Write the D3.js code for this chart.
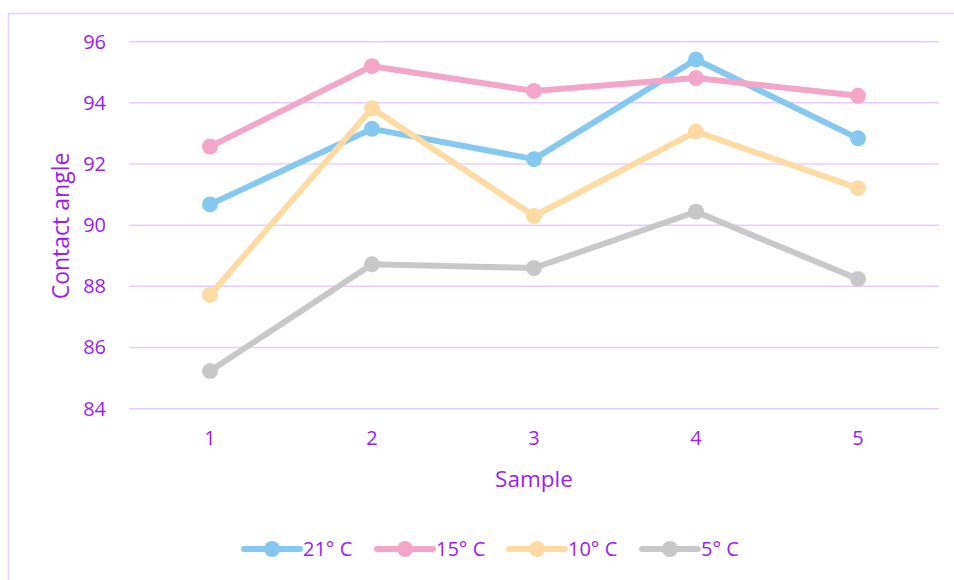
<!DOCTYPE html>
<html>
<head>
<meta charset="utf-8">
<script src="https://cdn.jsdelivr.net/npm/d3@7"></script>
<style>
  html, body { margin: 0; padding: 0; background: #fff; }
  svg { display: block; }
  text { font-family: "Open Sans", "Noto Sans", sans-serif; fill: #9B1BFA; }
</style>
</head>
<body>
<svg id="chart" width="954" height="580"></svg>
<script>
// Contact angle per sample at four temperatures
const samples = ["1", "2", "3", "4", "5"];
const seriesNames = ["21° C", "15° C", "10° C", "5° C"];
const seriesColors = ["#85C8F0", "#F4A6C8", "#FFDBA4", "#C8C8C8"];
const values21 = [90.68, 93.15, 92.16, 95.42, 92.84];
const values15 = [92.57, 95.20, 94.39, 94.81, 94.23];
const values10 = [87.72, 93.82, 90.30, 93.06, 91.21];
const values5  = [85.23, 88.72, 88.60, 90.44, 88.24];
const yTicks = [84, 86, 88, 90, 92, 94, 96];

const series = [values21, values15, values10, values5].map((v, i) => ({
  name: seriesNames[i], color: seriesColors[i], values: v
}));

const svg = d3.select("#chart");
const gridColor = "#E8CCFF";

// outer frame
svg.append("rect")
  .attr("x", 8.5).attr("y", 13.5)
  .attr("width", 960).attr("height", 600)
  .attr("fill", "none").attr("stroke", gridColor).attr("stroke-width", 1.5);

const plot = { left: 129, right: 939, top: 41.7, bottom: 408.7 };

const x = d3.scaleBand().domain(samples).range([plot.left, plot.right]);
const y = d3.scaleLinear().domain([84, 96]).range([plot.bottom, plot.top]);

// horizontal gridlines
svg.append("g")
  .selectAll("line").data(yTicks).join("line")
  .attr("x1", plot.left).attr("x2", plot.right)
  .attr("y1", d => y(d)).attr("y2", d => y(d))
  .attr("stroke", gridColor).attr("stroke-width", 1.5);

// y axis labels
const yAxis = svg.append("g")
  .attr("transform", `translate(${plot.left - 23},0)`)
  .call(d3.axisLeft(y).tickValues(yTicks).tickSize(0).tickPadding(0));
yAxis.select(".domain").remove();
yAxis.selectAll("text")
  .style("font-size", "20px").attr("fill", null)
  .style("fill", "#9B1BFA").style("font-family", "'Open Sans', sans-serif");

// x axis labels
const xAxis = svg.append("g")
  .attr("transform", `translate(0,${plot.bottom + 19})`)
  .call(d3.axisBottom(x).tickSize(0).tickPadding(3));
xAxis.select(".domain").remove();
xAxis.selectAll("text")
  .style("font-size", "20px").attr("fill", null)
  .style("fill", "#9B1BFA").style("font-family", "'Open Sans', sans-serif");

// axis titles
svg.append("text")
  .attr("transform", "translate(69,226) rotate(-90)")
  .attr("text-anchor", "middle")
  .style("font-size", "23px")
  .text("Contact angle");

svg.append("text")
  .attr("x", 534).attr("y", 487)
  .attr("text-anchor", "middle")
  .style("font-size", "22.5px")
  .text("Sample");

// series lines and markers
const line = d3.line()
  .x((d, i) => x(samples[i]) + x.bandwidth() / 2)
  .y(d => y(d));

const gSeries = svg.append("g").selectAll("g").data(series).join("g");
gSeries.append("path")
  .attr("d", d => line(d.values))
  .attr("fill", "none")
  .attr("stroke", d => d.color)
  .attr("stroke-width", 6)
  .attr("stroke-linejoin", "round");
gSeries.each(function (s) {
  d3.select(this).selectAll("circle").data(s.values).join("circle")
    .attr("cx", (d, i) => x(samples[i]) + x.bandwidth() / 2)
    .attr("cy", d => y(d))
    .attr("r", 8)
    .attr("fill", s.color);
});

// legend
const legendX = [244, 377, 509, 642];
const legendY = 549;
const lg = svg.append("g").selectAll("g").data(series).join("g")
  .attr("transform", (d, i) => `translate(${legendX[i]},${legendY})`);
lg.append("line")
  .attr("x1", 0).attr("x2", 56)
  .attr("stroke", d => d.color).attr("stroke-width", 6)
  .attr("stroke-linecap", "round");
lg.append("circle")
  .attr("cx", 28).attr("r", 8)
  .attr("fill", d => d.color);
lg.append("text")
  .attr("x", 59).attr("dy", "0.35em")
  .style("font-size", "20px")
  .text(d => d.name);
</script>
</body>
</html>
